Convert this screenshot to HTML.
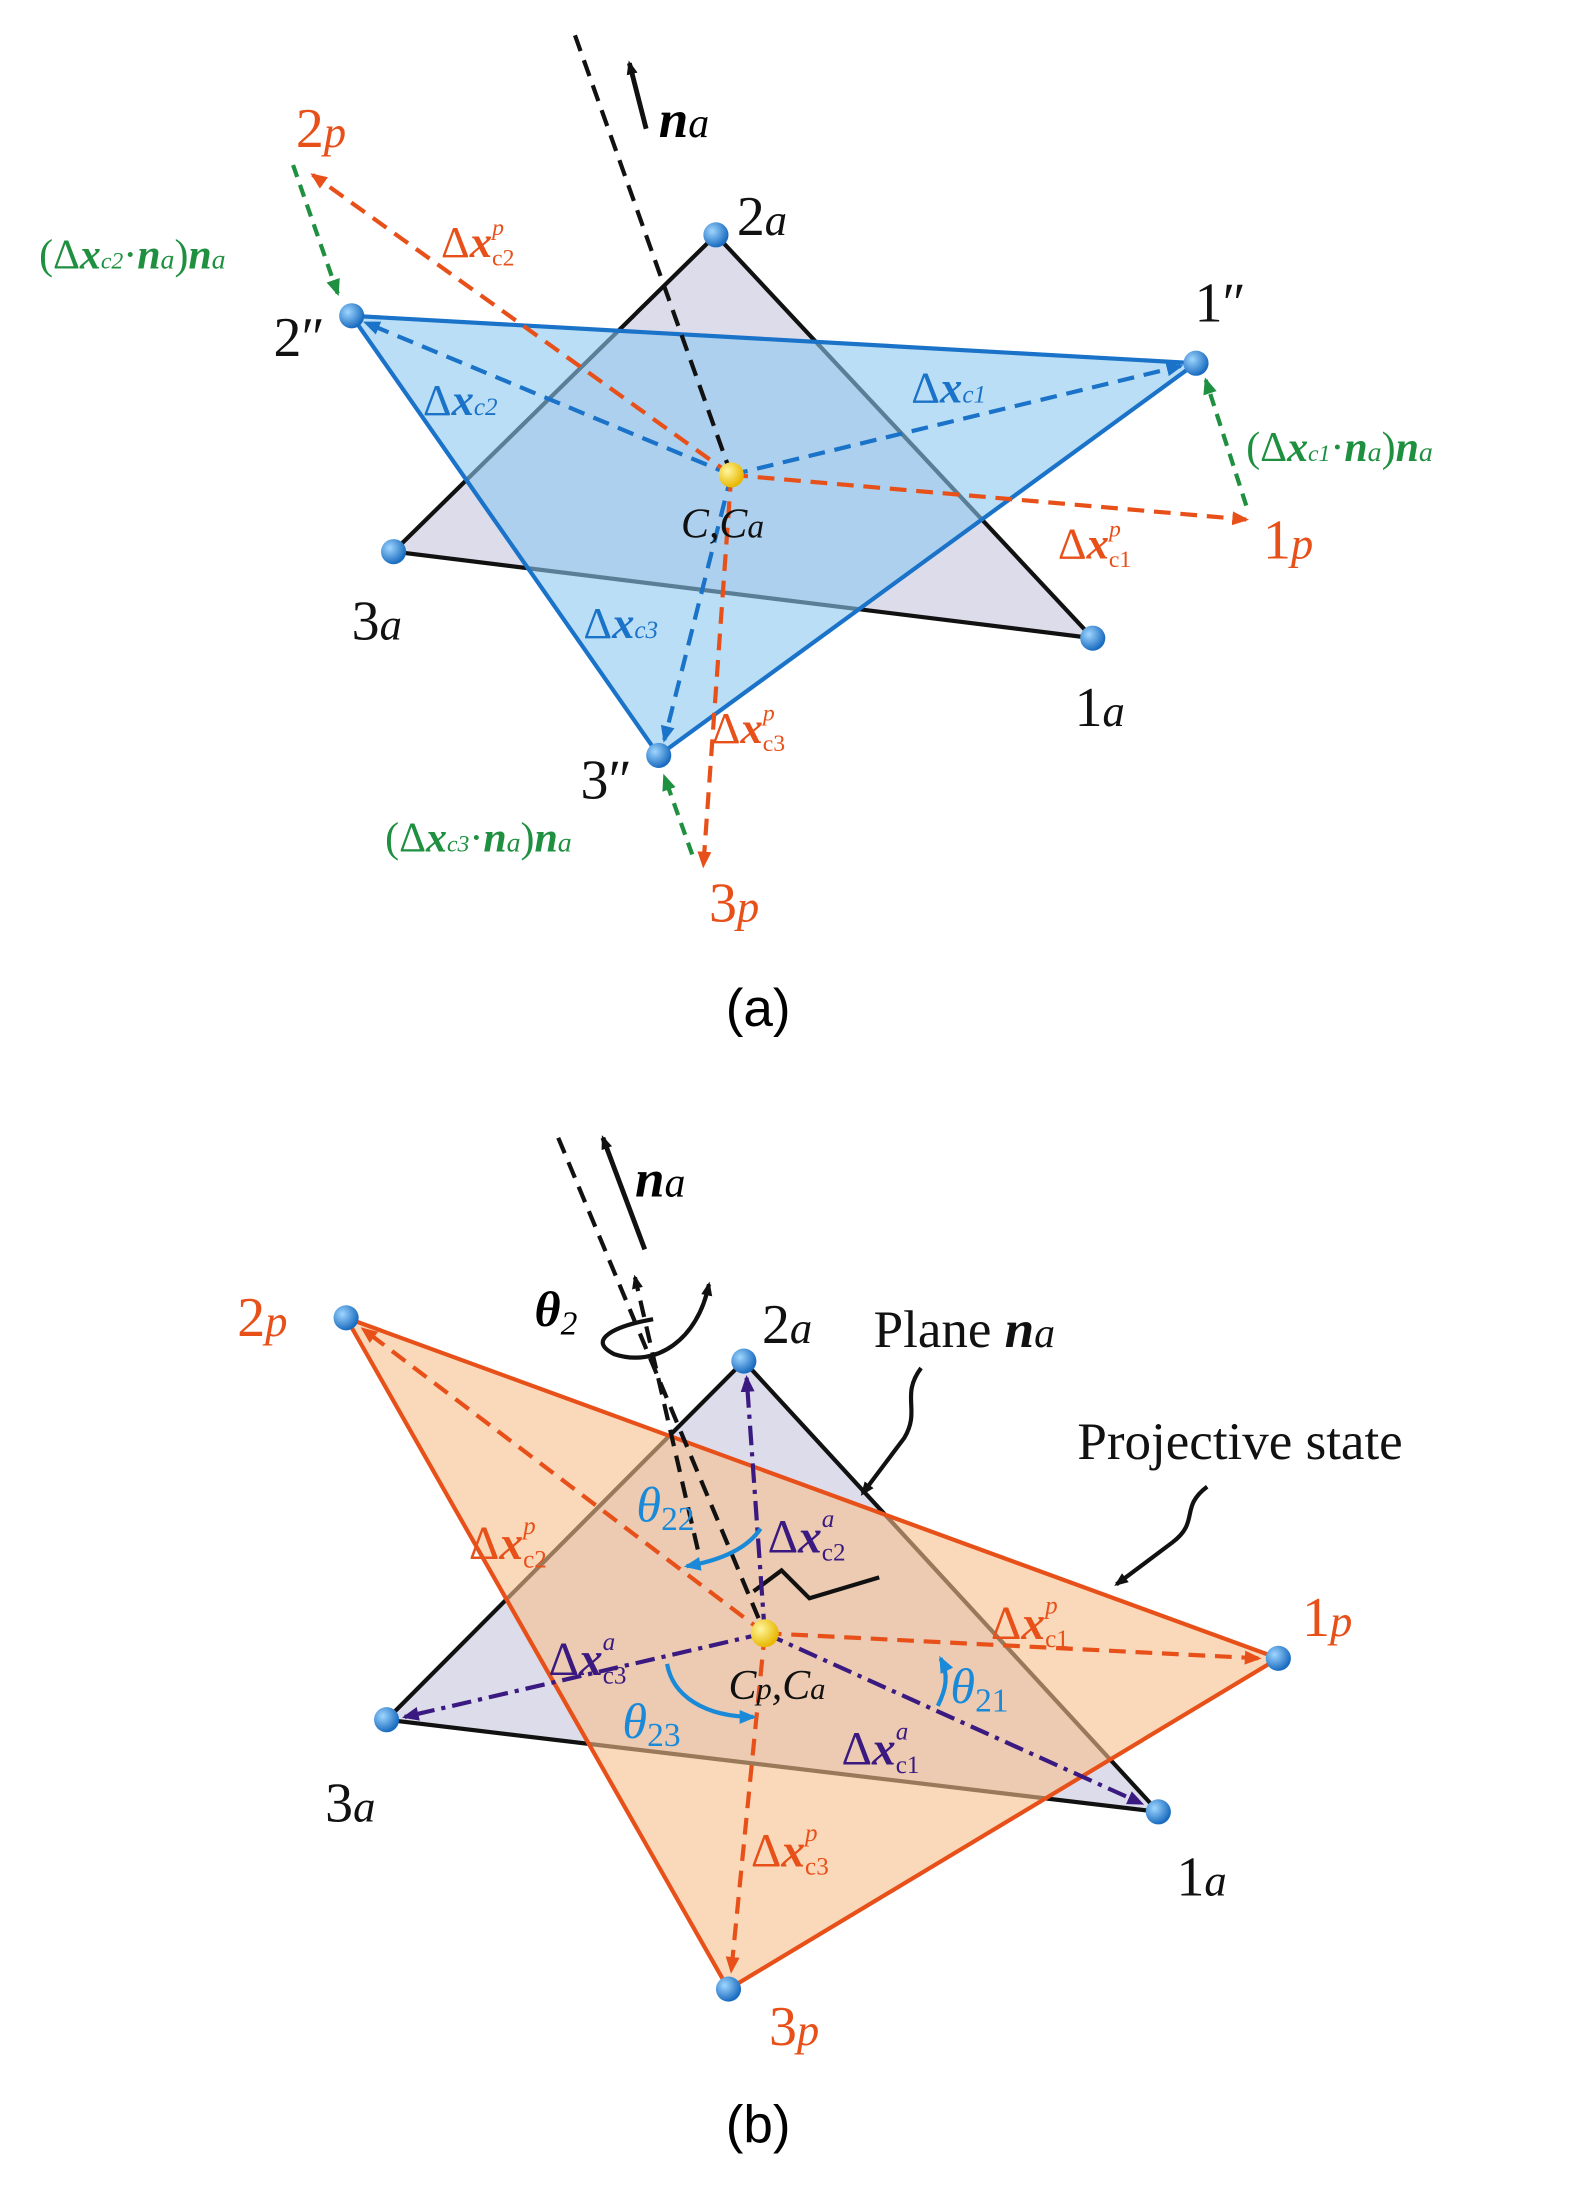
<!DOCTYPE html>
<html><head><meta charset="utf-8"><style>
html,body{margin:0;padding:0;background:#fff;}
svg{display:block;}
text{font-family:"Liberation Serif",serif;}
</style></head><body>
<svg width="1577" height="2196" viewBox="0 0 1130 1573" xmlns="http://www.w3.org/2000/svg">
<defs>
<marker id="ak" markerWidth="10" markerHeight="10" refX="8" refY="5" orient="auto" markerUnits="userSpaceOnUse"><path d="M0,1 L10,5 L0,9 Z" fill="#111"/></marker>
<marker id="ab" markerWidth="12" markerHeight="12" refX="10" refY="6" orient="auto" markerUnits="userSpaceOnUse"><path d="M0,1 L12,6 L0,11 Z" fill="#1a73c8"/></marker>
<marker id="ao" markerWidth="12" markerHeight="12" refX="10" refY="6" orient="auto" markerUnits="userSpaceOnUse"><path d="M0,1 L12,6 L0,11 Z" fill="#e8501a"/></marker>
<marker id="ag" markerWidth="12" markerHeight="12" refX="10" refY="6" orient="auto" markerUnits="userSpaceOnUse"><path d="M0,1 L12,6 L0,11 Z" fill="#1e9040"/></marker>
<marker id="ap" markerWidth="12" markerHeight="12" refX="10" refY="6" orient="auto" markerUnits="userSpaceOnUse"><path d="M0,1 L12,6 L0,11 Z" fill="#3a1a80"/></marker>
<marker id="ac" markerWidth="12" markerHeight="12" refX="10" refY="6" orient="auto" markerUnits="userSpaceOnUse"><path d="M0,1 L12,6 L0,11 Z" fill="#1a8ad8"/></marker>
<radialGradient id="bp" cx="35%" cy="35%" r="65%"><stop offset="0" stop-color="#9fd6ff"/><stop offset="1" stop-color="#1a6cc0"/></radialGradient>
<radialGradient id="yp" cx="35%" cy="35%" r="65%"><stop offset="0" stop-color="#fff6a0"/><stop offset="1" stop-color="#e8b800"/></radialGradient>
</defs>

<!-- ===== (a) ===== -->
<polygon points="513,168 783,457 282,395" fill="#dcdcea" stroke="#111" stroke-width="3"/>
<polygon points="252,226 857,260 472,541" fill="#8cc8ee" fill-opacity="0.6" stroke="#1a73c8" stroke-width="3"/>
<line x1="412" y1="25" x2="524" y2="340" stroke="#111" stroke-width="3" stroke-dasharray="12,7"/>
<line x1="463" y1="92" x2="451" y2="45" stroke="#111" stroke-width="3.5" marker-end="url(#ak)"/>
<text x="472" y="98" font-size="38" font-style="italic" font-weight="bold">n<tspan font-size="30" font-weight="normal">a</tspan></text>
<g stroke="#1a73c8" stroke-width="3" stroke-dasharray="12,7" fill="none">
<line x1="524" y1="340" x2="262" y2="231" marker-end="url(#ab)"/>
<line x1="524" y1="340" x2="846" y2="262" marker-end="url(#ab)"/>
<line x1="524" y1="340" x2="476" y2="530" marker-end="url(#ab)"/>
</g>
<g stroke="#e8501a" stroke-width="3" stroke-dasharray="12,7" fill="none">
<line x1="524" y1="340" x2="224" y2="125" marker-end="url(#ao)"/>
<line x1="524" y1="340" x2="893" y2="372" marker-end="url(#ao)"/>
<line x1="524" y1="340" x2="504" y2="620" marker-end="url(#ao)"/>
</g>
<g stroke="#1e9040" stroke-width="3" stroke-dasharray="9,6" fill="none">
<line x1="210" y1="118" x2="242" y2="210" marker-end="url(#ag)"/>
<line x1="893" y1="362" x2="864" y2="272" marker-end="url(#ag)"/>
<line x1="496" y1="612" x2="476" y2="556" marker-end="url(#ag)"/>
</g>
<g fill="url(#bp)">
<circle cx="513" cy="168" r="9"/><circle cx="783" cy="457" r="9"/><circle cx="282" cy="395" r="9"/>
<circle cx="252" cy="226" r="9"/><circle cx="857" cy="260" r="9"/><circle cx="472" cy="541" r="9"/>
</g>
<circle cx="524" cy="340" r="9" fill="url(#yp)"/>
<g font-size="40" fill="#111">
<text x="528" y="168">2<tspan font-style="italic" font-size="32">a</tspan></text>
<text x="770" y="520">1<tspan font-style="italic" font-size="32">a</tspan></text>
<text x="252" y="458">3<tspan font-style="italic" font-size="32">a</tspan></text>
<text x="196" y="255">2″</text>
<text x="856" y="230">1″</text>
<text x="416" y="572">3″</text>
<text x="488" y="385" font-size="30" font-style="italic">C,C<tspan font-size="24">a</tspan></text>
</g>
<g font-size="40" fill="#e8501a">
<text x="212" y="105">2<tspan font-style="italic" font-size="32">p</tspan></text>
<text x="905" y="400">1<tspan font-style="italic" font-size="32">p</tspan></text>
<text x="508" y="660">3<tspan font-style="italic" font-size="32">p</tspan></text>
</g>
<g font-size="32" fill="#e8501a">
<text x="316" y="184">Δ<tspan font-weight="bold" font-style="italic">x</tspan><tspan font-size="17" dy="6">c2</tspan><tspan font-size="17" font-style="italic" dx="-16" dy="-22">p</tspan></text>
<text x="758" y="400">Δ<tspan font-weight="bold" font-style="italic">x</tspan><tspan font-size="17" dy="6">c1</tspan><tspan font-size="17" font-style="italic" dx="-16" dy="-22">p</tspan></text>
<text x="510" y="532">Δ<tspan font-weight="bold" font-style="italic">x</tspan><tspan font-size="17" dy="6">c3</tspan><tspan font-size="17" font-style="italic" dx="-16" dy="-22">p</tspan></text>
</g>
<g font-size="32" fill="#1a73c8">
<text x="303" y="297">Δ<tspan font-weight="bold" font-style="italic">x</tspan><tspan font-size="18" font-style="italic">c2</tspan></text>
<text x="653" y="288">Δ<tspan font-weight="bold" font-style="italic">x</tspan><tspan font-size="18" font-style="italic">c1</tspan></text>
<text x="418" y="457">Δ<tspan font-weight="bold" font-style="italic">x</tspan><tspan font-size="18" font-style="italic">c3</tspan></text>
</g>
<g font-size="30" fill="#1e9040">
<text x="28" y="192">(Δ<tspan font-weight="bold" font-style="italic">x</tspan><tspan font-size="17" font-style="italic">c2</tspan>·<tspan font-weight="bold" font-style="italic">n</tspan><tspan font-size="20" font-style="italic">a</tspan>)<tspan font-weight="bold" font-style="italic">n</tspan><tspan font-size="20" font-style="italic">a</tspan></text>
<text x="893" y="330">(Δ<tspan font-weight="bold" font-style="italic">x</tspan><tspan font-size="17" font-style="italic">c1</tspan>·<tspan font-weight="bold" font-style="italic">n</tspan><tspan font-size="20" font-style="italic">a</tspan>)<tspan font-weight="bold" font-style="italic">n</tspan><tspan font-size="20" font-style="italic">a</tspan></text>
<text x="276" y="610">(Δ<tspan font-weight="bold" font-style="italic">x</tspan><tspan font-size="17" font-style="italic">c3</tspan>·<tspan font-weight="bold" font-style="italic">n</tspan><tspan font-size="20" font-style="italic">a</tspan>)<tspan font-weight="bold" font-style="italic">n</tspan><tspan font-size="20" font-style="italic">a</tspan></text>
</g>
<text x="520" y="735" font-size="38" style="font-family:'Liberation Sans',sans-serif">(a)</text>

<!-- ===== (b) ===== -->
<polygon points="533,975 830,1298 277,1232" fill="#dcdcea" stroke="#111" stroke-width="3"/>
<polygon points="248,944 916,1188 522,1425" fill="#f6c08c" fill-opacity="0.6" stroke="#e8501a" stroke-width="3"/>
<line x1="400" y1="815" x2="548" y2="1170" stroke="#111" stroke-width="3" stroke-dasharray="12,7"/>
<line x1="462" y1="895" x2="432" y2="815" stroke="#111" stroke-width="3.5" marker-end="url(#ak)"/>
<text x="455" y="857" font-size="38" font-style="italic" font-weight="bold">n<tspan font-size="30" font-weight="normal">a</tspan></text>
<line x1="500" y1="1110" x2="455" y2="915" stroke="#111" stroke-width="3" stroke-dasharray="12,7" marker-end="url(#ak)"/>
<path d="M468,945 C440,950 420,960 440,970 C470,980 500,960 508,920" fill="none" stroke="#111" stroke-width="3" marker-end="url(#ak)"/>
<text x="383" y="950" font-size="36" font-style="italic" font-weight="bold">θ<tspan font-size="24" font-weight="normal" dy="6">2</tspan></text>
<path d="M540,1140 L560,1125 L580,1145 L630,1130" fill="none" stroke="#111" stroke-width="3"/>
<g stroke="#3a1a80" stroke-width="3" stroke-dasharray="14,5,3,5" fill="none">
<line x1="548" y1="1170" x2="535" y2="987" marker-end="url(#ap)"/>
<line x1="548" y1="1170" x2="818" y2="1292" marker-end="url(#ap)"/>
<line x1="548" y1="1170" x2="290" y2="1230" marker-end="url(#ap)"/>
</g>
<g stroke="#e8501a" stroke-width="3" stroke-dasharray="12,7" fill="none">
<line x1="548" y1="1170" x2="260" y2="952" marker-end="url(#ao)"/>
<line x1="548" y1="1170" x2="902" y2="1188" marker-end="url(#ao)"/>
<line x1="548" y1="1170" x2="524" y2="1412" marker-end="url(#ao)"/>
</g>
<g stroke="#1a8ad8" stroke-width="3" fill="none">
<path d="M545,1095 C535,1110 515,1118 492,1122" marker-end="url(#ac)"/>
<path d="M478,1192 C482,1215 505,1230 540,1230" marker-end="url(#ac)"/>
<path d="M672,1222 C678,1210 680,1200 674,1188" marker-end="url(#ac)"/>
</g>
<path d="M660,980 C645,1000 660,1010 648,1030 L618,1070" fill="none" stroke="#111" stroke-width="3" marker-end="url(#ak)"/>
<path d="M865,1065 C845,1080 860,1090 840,1105 L800,1135" fill="none" stroke="#111" stroke-width="3" marker-end="url(#ak)"/>
<g fill="url(#bp)">
<circle cx="533" cy="975" r="9"/><circle cx="830" cy="1298" r="9"/><circle cx="277" cy="1232" r="9"/>
<circle cx="248" cy="944" r="9"/><circle cx="916" cy="1188" r="9"/><circle cx="522" cy="1425" r="9"/>
</g>
<circle cx="548" cy="1170" r="10" fill="url(#yp)"/>
<g font-size="40" fill="#111">
<text x="546" y="962">2<tspan font-style="italic" font-size="32">a</tspan></text>
<text x="843" y="1358">1<tspan font-style="italic" font-size="32">a</tspan></text>
<text x="233" y="1305">3<tspan font-style="italic" font-size="32">a</tspan></text>
<text x="626" y="965" font-size="38">Plane <tspan font-weight="bold" font-style="italic">n</tspan><tspan font-style="italic" font-size="30">a</tspan></text>
<text x="772" y="1045" font-size="38">Projective state</text>
<text x="522" y="1217" font-size="30" font-style="italic">C<tspan font-size="22">p</tspan>,C<tspan font-size="22">a</tspan></text>
</g>
<g font-size="40" fill="#e8501a">
<text x="170" y="957">2<tspan font-style="italic" font-size="32">p</tspan></text>
<text x="933" y="1172">1<tspan font-style="italic" font-size="32">p</tspan></text>
<text x="551" y="1465">3<tspan font-style="italic" font-size="32">p</tspan></text>
</g>
<g font-size="34" fill="#e8501a">
<text x="336" y="1117">Δ<tspan font-weight="bold" font-style="italic">x</tspan><tspan font-size="18" dy="6">c2</tspan><tspan font-size="18" font-style="italic" dx="-17" dy="-24">p</tspan></text>
<text x="710" y="1174">Δ<tspan font-weight="bold" font-style="italic">x</tspan><tspan font-size="18" dy="6">c1</tspan><tspan font-size="18" font-style="italic" dx="-17" dy="-24">p</tspan></text>
<text x="538" y="1337">Δ<tspan font-weight="bold" font-style="italic">x</tspan><tspan font-size="18" dy="6">c3</tspan><tspan font-size="18" font-style="italic" dx="-17" dy="-24">p</tspan></text>
</g>
<g font-size="34" fill="#3a1a80">
<text x="550" y="1112">Δ<tspan font-weight="bold" font-style="italic">x</tspan><tspan font-size="18" dy="6">c2</tspan><tspan font-size="18" font-style="italic" dx="-17" dy="-24">a</tspan></text>
<text x="393" y="1200">Δ<tspan font-weight="bold" font-style="italic">x</tspan><tspan font-size="18" dy="6">c3</tspan><tspan font-size="18" font-style="italic" dx="-17" dy="-24">a</tspan></text>
<text x="603" y="1264">Δ<tspan font-weight="bold" font-style="italic">x</tspan><tspan font-size="18" dy="6">c1</tspan><tspan font-size="18" font-style="italic" dx="-17" dy="-24">a</tspan></text>
</g>
<g font-size="36" fill="#1a8ad8" font-style="italic">
<text x="456" y="1090">θ<tspan font-size="24" font-style="normal" dy="6">22</tspan></text>
<text x="446" y="1245">θ<tspan font-size="24" font-style="normal" dy="6">23</tspan></text>
<text x="681" y="1220">θ<tspan font-size="24" font-style="normal" dy="6">21</tspan></text>
</g>
<text x="520" y="1535" font-size="38" style="font-family:'Liberation Sans',sans-serif">(b)</text>
</svg>
</body></html>
